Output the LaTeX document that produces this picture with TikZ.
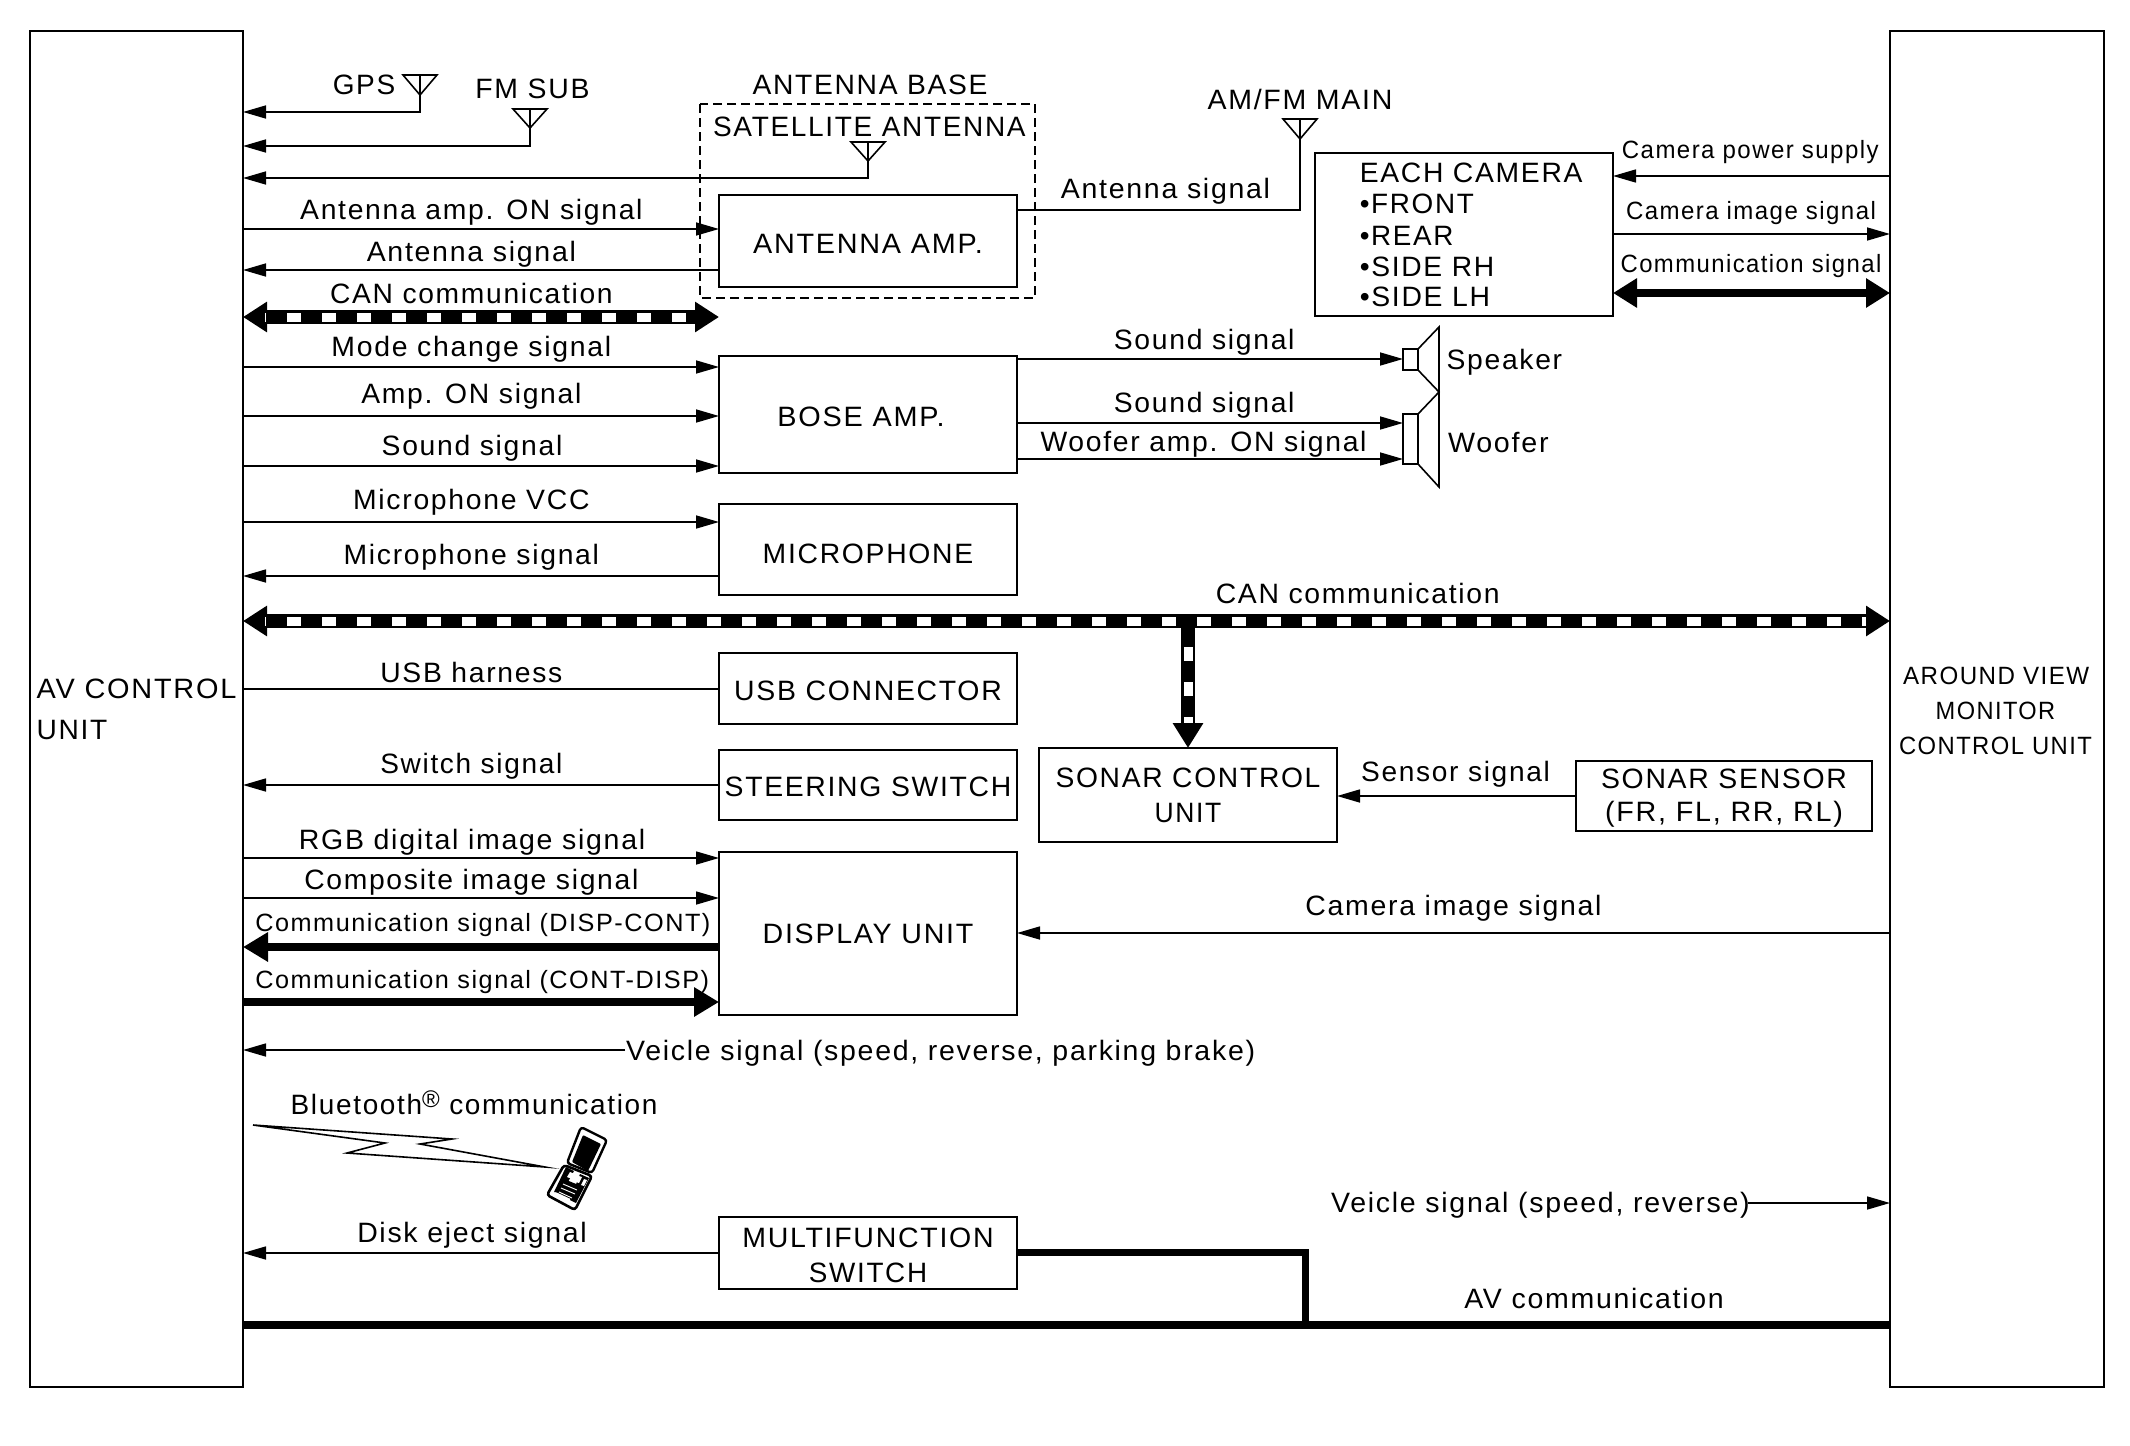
\documentclass[tikz,border=0pt]{standalone}
\usepackage{fontspec}
\usepackage{graphicx}
\setmainfont{Liberation Sans}[LetterSpace=6]
\usetikzlibrary{arrows.meta,calc}
\newcommand{\fit}[3]{\pgfmathsetmacro\fitw{(#2-#1)*1.3584}\resizebox{\fitw pt}{\height}{#3}}
\newcommand{\tl}[5]{\pgfmathsetmacro\tlx{(#2+#3)/2*1.3584}\pgfmathsetmacro\tly{#4*1.3584+10}\node[txt] (#1) at (\tlx,\tly) {\fit{#2}{#3}{#5}};}
\newcommand{\tls}[5]{\pgfmathsetmacro\tlx{(#2+#3)/2*1.3584}\pgfmathsetmacro\tly{#4*1.3584+9}\node[txt,font=\fontsize{25}{30}\selectfont] (#1) at (\tlx,\tly) {\fit{#2}{#3}{#5}};}
\newcommand{\bx}[6]{\pgfmathsetmacro\bxw{#4-#2}\pgfmathsetmacro\bxh{#5-#3}\pgfmathsetmacro\bxx{(#4+#2)/2}\pgfmathsetmacro\bxy{(#5+#3)/2}\node[box,minimum width=\bxw pt,minimum height=\bxh pt] (#1) at (\bxx,\bxy) {#6};}
\newcommand{\ant}[4]{\coordinate (#1) at (#2,#3);\draw[thinl] (#2-17,#3) -- (#2+17,#3) -- (#2,#4) -- cycle;}
\newcommand{\dn}[2]{\raisebox{-#1pt}[20pt][0pt]{#2}}
\tikzset{
 thinl/.style={line width=1.6pt,line join=miter},
 box/.style={draw,line width=1.7pt,inner sep=0pt,outer sep=0pt,align=center,font=\fontsize{28}{35}\selectfont},
 txt/.style={inner sep=0pt,outer sep=0pt,anchor=base,font=\fontsize{28}{35}\selectfont},
 sig/.style={line width=1.6pt,-{Triangle[length=23pt,width=13pt]}},
 plain/.style={line width=1.6pt},
 heavy/.style={line width=8pt,-{Triangle[length=25pt,width=28pt]}},
 heavyb/.style={line width=8pt,{Triangle[length=24pt,width=28pt]}-{Triangle[length=24pt,width=28pt]}},
 canb/.style={line width=14pt,{Triangle[length=24pt,width=29pt]}-{Triangle[length=24pt,width=29pt]}},
 canw/.style={line width=9pt,white,dash pattern=on 14pt off 21pt,shorten <=22pt,shorten >=24pt},
 busl/.style={line width=7pt},
}
\begin{document}
\begin{tikzpicture}[x=1pt,y=-1pt]
\useasboundingbox (0,0) rectangle (2130,1445);
% main units
\bx{av}{30}{31}{243}{1387}{}
\bx{avm}{1890}{31}{2104}{1387}{}
% boxes
\bx{amp}{719}{195}{1017}{287}{\dn{2}{\fit{554}{723}{ANTENNA AMP.}}}
\bx{cam}{1315}{153}{1613}{316}{}
\bx{bose}{719}{356}{1017}{473}{\hspace*{-14pt}\dn{1.5}{\fit{572}{695}{BOSE AMP.}}}
\bx{mic}{719}{504}{1017}{595}{\dn{3.5}{\fit{561}{716}{MICROPHONE}}}
\bx{usb}{719}{653}{1017}{724}{\dn{1.5}{\fit{540}{737}{USB CONNECTOR}}}
\bx{steer}{719}{750}{1017}{820}{\dn{1.5}{\fit{533}{744}{STEERING SWITCH}}}
\bx{sonar}{1039}{748}{1337}{842}{\dn{0}{\fit{777}{972}{SONAR CONTROL}}\\\dn{0}{\fit{850}{899}{UNIT}}}
\bx{sensor}{1576}{761}{1872}{831}{\raisebox{1.5pt}[20pt][0pt]{\fit{1179}{1360}{SONAR SENSOR}}\\[-2pt]\raisebox{1.5pt}[20pt][0pt]{\fit{1182}{1357}{(FR, FL, RR, RL)}}}
\bx{disp}{719}{852}{1017}{1015}{\dn{0}{\fit{561}{716}{DISPLAY UNIT}}}
\bx{multi}{719}{1217}{1017}{1289}{\dn{2}{\fit{546}{731}{MULTIFUNCTION}}\\\dn{2}{\fit{595}{682}{SWITCH}}}
\bx{spk}{1403}{349}{1418}{370}{}
\bx{wfr}{1403}{414}{1418}{464}{}
% antenna base
\draw[line width=1.5pt,dash pattern=on 9pt off 5pt] (700,104) rectangle (1035,298);
% antennas
\ant{gpsant}{420}{75}{95}
\ant{fmant}{530}{109}{128}
\ant{satant}{868}{142}{161}
\ant{mainant}{1300}{119}{139}
\draw[sig] (gpsant) |- (av.east|-0,112);
\draw[sig] (fmant) |- (av.east|-0,146);
\draw[sig] (satant) |- (av.east|-0,178);
\draw[plain] (mainant) |- (amp.east|-0,210);
% left signals
\draw[sig] (av.east|-0,229) -- (amp.west|-0,229);
\draw[sig] (amp.west|-0,270) -- (av.east|-0,270);
\draw[canb] (av.east|-0,317) -- (amp.west|-0,317);
\draw[canw,dash phase=13pt] (av.east|-0,317) -- (amp.west|-0,317);
\draw[sig] (av.east|-0,367) -- (bose.west|-0,367);
\draw[sig] (av.east|-0,416) -- (bose.west|-0,416);
\draw[sig] (av.east|-0,466) -- (bose.west|-0,466);
\draw[sig] (av.east|-0,522) -- (mic.west|-0,522);
\draw[sig] (mic.west|-0,576) -- (av.east|-0,576);
% main CAN
\draw[canb] (av.east|-0,621) -- (avm.west|-0,621);
\draw[canw,dash phase=13pt] (av.east|-0,621) -- (avm.west|-0,621);
\coordinate (canbr) at (1188,627);
\draw[line width=14pt,-{Triangle[length=25pt,width=29pt]}] (canbr) -- (canbr|-sonar.north);
\draw[line width=9pt,white,dash pattern=on 14pt off 21pt,dash phase=15pt,shorten >=25pt] (canbr) -- (canbr|-sonar.north);
\draw[plain] (av.east|-0,689) -- (usb.west|-0,689);
\draw[sig] (steer.west|-0,785) -- (av.east|-0,785);
\draw[sig] (sensor.west|-0,796) -- (sonar.east|-0,796);
\draw[sig] (av.east|-0,858) -- (disp.west|-0,858);
\draw[sig] (av.east|-0,898) -- (disp.west|-0,898);
\draw[heavy] (disp.west|-0,947) -- (av.east|-0,947);
\draw[heavy] (av.east|-0,1002) -- (disp.west|-0,1002);
\draw[sig] (avm.west|-0,933) -- (disp.east|-0,933);
\coordinate (veh1) at (625,1050);
\draw[sig] (veh1) -- (av.east|-veh1);
\coordinate (veh2) at (1748,1203);
\draw[sig] (veh2) -- (avm.west|-veh2);
\draw[sig] (multi.west|-0,1253) -- (av.east|-0,1253);
\draw[line width=8pt] (av.east|-0,1325) -- (avm.west|-0,1325);
\draw[busl] (multi.east|-0,1252) -| (1305,1325);
% right signals
\draw[sig] (avm.west|-0,176) -- (cam.east|-0,176);
\draw[sig] (cam.east|-0,234) -- (avm.west|-0,234);
\draw[heavyb] (cam.east|-0,293) -- (avm.west|-0,293);
\draw[sig] (bose.east|-0,359) -- (spk.west|-0,359);
\draw[sig] (bose.east|-0,423) -- (wfr.west|-0,423);
\draw[sig] (bose.east|-0,459) -- (wfr.west|-0,459);
% speaker horns
\draw[thinl,line join=miter] (spk.north east) -- (1439,327) -- (1439,487) -- (wfr.south east);
\draw[thinl] (spk.south east) -- (1439,392) -- (wfr.north east);
% labels
\tl{t1}{245}{291}{62}{GPS}
\tl{t2}{350}{434}{65}{FM SUB}
\tl{t3}{554}{727}{62}{ANTENNA BASE}
\tl{t4}{525}{755}{93}{SATELLITE ANTENNA}
\tl{t5}{889}{1025}{73}{AM/FM MAIN}
\tl{t6}{221}{473}{154}{Antenna amp. ON signal}
\tl{t7}{270}{424}{185}{Antenna signal}
\tl{t8}{243}{451}{216}{CAN communication}
\tl{t9}{244}{450}{255}{Mode change signal}
\tl{t10}{266}{428}{290}{Amp. ON signal}
\tl{t11}{281}{414}{328}{Sound signal}
\tl{t12}{260}{434}{368}{Microphone VCC}
\tl{t13}{253}{441}{408}{Microphone signal}
\tl{t14}{895}{1104}{437}{CAN communication}
\tl{t15}{280}{414}{495}{USB harness}
\tl{t16}{280}{414}{562}{Switch signal}
\tl{t17}{220}{475}{618}{RGB digital image signal}
\tl{t18}{224}{470}{647.5}{Composite image signal}
\tls{t19}{188}{523}{679}{Communication signal (DISP-CONT)}
\tls{t20}{188}{522}{721}{Communication signal (CONT-DISP)}
\tl{t21}{461}{924}{773}{Veicle signal (speed, reverse, parking brake)}
\tl{t22}{214}{484}{813}{Bluetooth\raisebox{7pt}{\fontsize{24}{24}\selectfont ®} communication}
\tl{t23}{263}{432}{907}{Disk eject signal}
\tl{t24}{980}{1288}{885}{Veicle signal (speed, reverse)}
\tl{t25}{1078}{1269}{956}{AV communication}
\tl{t26}{781}{935}{139}{Antenna signal}
\tls{t27}{1194}{1383}{110}{Camera power supply}
\tls{t28}{1197}{1381}{155}{Camera image signal}
\tls{t29}{1193}{1385}{194}{Communication signal}
\tl{t30}{820}{953}{250}{Sound signal}
\tl{t31}{820}{953}{296}{Sound signal}
\tl{t32}{766}{1006}{325}{Woofer amp. ON signal}
\tl{t33}{1065}{1150}{264.5}{Speaker}
\tl{t34}{1066}{1140}{325.5}{Woofer}
\tl{t35}{1002}{1141}{568}{Sensor signal}
\tl{t36}{961}{1179}{666.5}{Camera image signal}
\tl{t37}{27}{174}{507}{AV CONTROL}
\tl{t38}{27}{79}{537}{UNIT}
\tls{t39}{1401}{1538}{497}{AROUND VIEW}
\tls{t40}{1425}{1513}{523}{MONITOR}
\tls{t41}{1398}{1540}{549}{CONTROL UNIT}
\tl{t42}{1001}{1165}{127}{EACH CAMERA}
\tl{t43}{1001}{1085}{150}{•FRONT}
\tl{t44}{1001}{1070}{173}{•REAR}
\tl{t45}{1001}{1100}{196}{•SIDE RH}
\tl{t46}{1001}{1097}{218}{•SIDE LH}
% lightning
\draw[thinl,line join=miter,miter limit=20] (253,1125) -- (452,1139) -- (420,1144) -- (545,1167) -- (347,1153) -- (385,1143) -- cycle;
% phone
\draw[line width=2.4pt,rounded corners=3pt,fill=white] (581,1127) -- (607,1140) -- (592,1173) -- (567,1163) -- cycle;
\fill[rounded corners=1pt] (583,1135) -- (601,1144) -- (588,1171) -- (572,1162) -- cycle;
\draw[line width=2.6pt,rounded corners=3pt,fill=white] (564,1165) -- (592,1176) -- (575,1210) -- (547,1195) -- cycle;
\fill (566,1167) -- (574,1171) -- (562,1193) -- (554,1192) -- cycle;
\fill (580,1174) -- (589,1178) -- (576,1203) -- (570,1200) -- cycle;
\fill (564,1179) -- (581,1186) -- (573,1200) -- (556,1192) -- cycle;
\fill[white] (570,1172) -- (575,1174) -- (572,1179) -- (567,1177) -- cycle;
\fill[white] (576,1175) -- (582,1177) -- (579,1183) -- (573,1181) -- cycle;
\fill[white] (584,1179) -- (587,1180) -- (584,1186) -- (581,1185) -- cycle;
\draw[white,line width=.9pt] (563,1184) -- (577,1190) (561,1188) -- (575,1194) (559,1192) -- (572,1198);
\end{tikzpicture}
\end{document}
